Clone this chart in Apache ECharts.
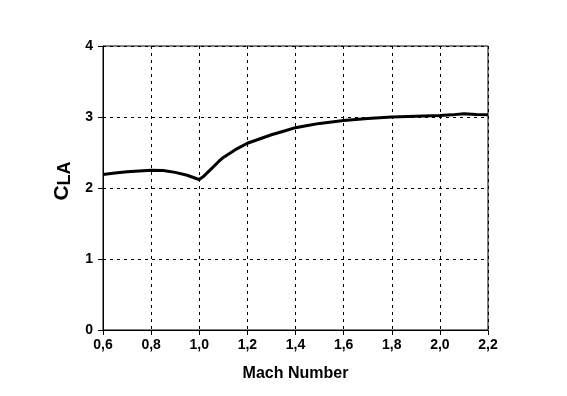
<!DOCTYPE html>
<html>
<head>
<meta charset="utf-8">
<script src="https://cdn.jsdelivr.net/npm/echarts@6/dist/echarts.min.js"></script>
<style>
  html, body { margin: 0; padding: 0; background: #fff; }
  #chart { width: 567px; height: 396px; }
</style>
</head>
<body>
<div id="chart"></div>
<script>
// values
const mach = [0.6, 0.65, 0.7, 0.75, 0.8, 0.85, 0.9, 0.95, 0.99, 1.0, 1.02, 1.05, 1.08, 1.1, 1.15, 1.2, 1.25, 1.3, 1.35, 1.4, 1.45, 1.5, 1.6, 1.7, 1.8, 1.9, 2.0, 2.05, 2.1, 2.15, 2.2];
const cla = [2.19, 2.21, 2.23, 2.24, 2.25, 2.245, 2.22, 2.18, 2.13, 2.12, 2.17, 2.27, 2.37, 2.43, 2.54, 2.63, 2.69, 2.75, 2.8, 2.85, 2.88, 2.91, 2.95, 2.98, 3.0, 3.01, 3.02, 3.03, 3.045, 3.035, 3.03];

const font = "Liberation Sans, Arial, sans-serif";

let myChart = echarts.init(document.getElementById("chart"));
myChart.setOption({
  animation: false,
  grid: {
    left: 103,
    right: 79,
    top: 46,
    bottom: 66,
    show: true,
    borderColor: "#000",
    borderWidth: 1,
    backgroundColor: "transparent"
  },
  xAxis: {
    type: "value",
    min: 0.6,
    max: 2.2,
    interval: 0.2,
    name: "Mach Number",
    nameLocation: "middle",
    nameGap: 36,
    nameTextStyle: { color: "#000", fontSize: 16, fontWeight: "bold", fontFamily: font },
    axisLine: { lineStyle: { color: "#000", width: 1 } },
    axisTick: { show: true, length: 5, lineStyle: { color: "#000" } },
    axisLabel: {
      color: "#000",
      fontSize: 14,
      fontWeight: "bold",
      fontFamily: font,
      margin: 8,
      formatter: v => v.toFixed(1).replace(".", ",")
    },
    splitLine: { show: true, lineStyle: { color: "#000", type: [3, 4], width: 1 } }
  },
  yAxis: {
    type: "value",
    min: 0,
    max: 4,
    interval: 1,
    name: "{c|C}{s|LA}",
    nameLocation: "middle",
    nameRotate: 90,
    nameGap: 26,
    nameTextStyle: {
      padding: [0, 0, 0, 14],
      rich: {
        c: { fontSize: 21, fontWeight: "bold", fontFamily: font, color: "#000" },
        s: { fontSize: 18, fontWeight: "bold", fontFamily: font, color: "#000", verticalAlign: "bottom", padding: [6, 0, 0, 0] }
      }
    },
    axisLine: { show: true, lineStyle: { color: "#000", width: 1 } },
    axisTick: { show: true, length: 5, lineStyle: { color: "#000" } },
    axisLabel: { color: "#000", fontSize: 14, fontWeight: "bold", fontFamily: font, margin: 10 },
    splitLine: { show: true, lineStyle: { color: "#000", type: [3, 4], width: 1 } }
  },
  series: [
    {
      type: "line",
      data: mach.map((m, i) => [m, cla[i]]),
      showSymbol: false,
      lineStyle: { color: "#000", width: 3 }
    }
  ]
});
</script>
</body>
</html>
